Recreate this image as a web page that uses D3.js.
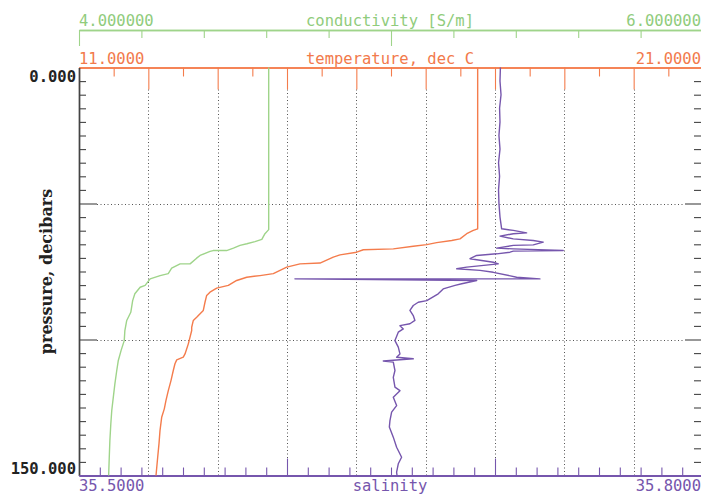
<!DOCTYPE html>
<html>
<head>
<meta charset="utf-8">
<script src="https://cdn.jsdelivr.net/npm/d3@7"></script>
<style>
  html, body { margin: 0; padding: 0; background: #fff; }
  svg { display: block; }
</style>
</head>
<body>
<svg id="chart" width="701" height="494"></svg>
<script>
// CTD cast: conductivity, temperature and salinity against pressure.

// Conductivity profile [S/m]
const condPressure = [0, 59.6, 61.1, 63.2, 64.0, 64.8, 65.4, 66.4, 67.3, 67.3, 67.6, 69.1, 70.1, 72.2, 72.2,
  73.8, 75.8, 76.5, 77.7, 80.1, 80.8, 83.2, 85.7, 90.0, 93.0, 96.7, 100.4, 104.0, 107.7, 111.4, 116.3,
  121.2, 126.1, 131.0, 137.1, 143.3, 150];
const condValues = [4.608, 4.608, 4.596, 4.586, 4.564, 4.538, 4.516, 4.495, 4.473, 4.430, 4.420, 4.388,
  4.377, 4.356, 4.324, 4.297, 4.286, 4.260, 4.228, 4.212, 4.196, 4.179, 4.172, 4.166, 4.153, 4.147,
  4.145, 4.135, 4.126, 4.121, 4.115, 4.110, 4.105, 4.102, 4.099, 4.097, 4.095];

// Temperature profile [deg C]
const tempPressure = [0, 59.3, 59.9, 61.1, 63.0, 63.6, 64.4, 65.1, 65.7, 66.7, 67.0, 67.9, 68.9, 69.7,
  71.9, 72.2, 73.4, 75.8, 76.5, 77.1, 78.3, 80.1, 81.1, 82.6, 83.8, 86.3, 89.3, 91.8, 93.0, 95.5, 96.7,
  101.6, 105.3, 106.5, 107.5, 108.9, 111.4, 115.1, 118.8, 122.4, 125.5, 128.6, 133.5, 138.3, 143.3, 150];
const tempValues = [17.389, 17.389, 17.319, 17.213, 17.106, 16.973, 16.732, 16.572, 16.357, 16.037,
  15.556, 15.450, 15.183, 15.075, 14.862, 14.542, 14.329, 14.114, 13.901, 13.688, 13.527, 13.393,
  13.207, 13.099, 13.046, 13.019, 12.992, 12.886, 12.832, 12.806, 12.806, 12.752, 12.699, 12.671,
  12.566, 12.538, 12.511, 12.474, 12.431, 12.394, 12.367, 12.325, 12.298, 12.282, 12.261, 12.234];

// Salinity profile
const salPressure = [0, 5, 10, 15, 20, 25, 30, 35, 40, 45, 50, 55, 59.3, 59.9, 60.8, 61.1, 62.0, 63.0,
  63.6, 64.2, 65.2, 65.4, 66.4, 66.7, 67.3, 67.5, 67.9, 68.5, 69.1, 70.3, 71.6, 72.2, 73.4, 74.0, 74.6,
  75.3, 77.1, 77.7, 77.7, 78.3, 79.5, 80.1, 81.4, 83.2, 85.7, 86.3, 87.5, 89.3, 91.2, 93.0, 94.2, 94.9,
  96.1, 97.3, 100.4, 102.8, 105.3, 106.5, 107.1, 107.9, 108.3, 111.4, 113.9, 117.5, 118.8, 121.2,
  124.3, 126.7, 129.8, 132.2, 135.9, 139.6, 143.3, 145.7, 148.8, 150];
const salValues = [35.7026, 35.7024, 35.7029, 35.7022, 35.7024, 35.7019, 35.7024, 35.7017, 35.7022,
  35.7017, 35.7019, 35.7024, 35.7032, 35.7088, 35.7152, 35.7088, 35.7024, 35.7088, 35.7184, 35.7232,
  35.7184, 35.7088, 35.7008, 35.7088, 35.7328, 35.7088, 35.7072, 35.7008, 35.6912, 35.6880, 35.6992,
  35.7016, 35.6864, 35.6816, 35.6928, 35.6992, 35.7104, 35.7216, 35.6038, 35.6912, 35.6840, 35.6808,
  35.6751, 35.6727, 35.6672, 35.6631, 35.6607, 35.6591, 35.6607, 35.6615, 35.6591, 35.6543, 35.6559,
  35.6535, 35.6519, 35.6535, 35.6543, 35.6527, 35.6607, 35.6463, 35.6511, 35.6519, 35.6511, 35.6519,
  35.6543, 35.6511, 35.6527, 35.6503, 35.6495, 35.6492, 35.6511, 35.6527, 35.6551, 35.6535, 35.6527,
  35.6529];

// Axis ranges and labels
const pressureDomain = [0, 150];
const condDomain = [4, 6];
const tempDomain = [11, 21];
const salDomain = [35.5, 35.8];
const pressureLabels = ["0.000", "150.000"];
const condLabels = ["4.000000", "conductivity [S/m]", "6.000000"];
const tempLabels = ["11.0000", "temperature, dec C", "21.0000"];
const salLabels = ["35.5000", "salinity", "35.8000"];
const pressureTitle = "pressure, decibars";

const condStep = 0.2, condMajor = [4, 5, 6];
const tempDivisions = 18;           // temperature axis split into 18 tick intervals
const salStep = 0.01, salMajor = [35.6, 35.7];
const pressureStep = 5, pressureMajor = [50, 100];

const colors = {
  cond: "#9fd48a", condText: "#90cc7c",
  temp: "#f47c4c", tempText: "#f27a4c",
  sal: "#7656ad", salText: "#7656ad",
  axis: "#444", grid: "#555"
};

const L = 79, R = 703, T = 67.5, B = 475.5;
const svg = d3.select("#chart");

const y = d3.scaleLinear().domain(pressureDomain).range([T, B]);
const xC = d3.scaleLinear().domain(condDomain).range([L, R]);
const xT = d3.scaleLinear().domain(tempDomain).range([L, R]);
const xS = d3.scaleLinear().domain(salDomain).range([L, R]);

const fmt = v => +v.toFixed(6);
const condTicks = d3.range(0, Math.round((condDomain[1] - condDomain[0]) / condStep) + 1).map(k => fmt(condDomain[0] + k * condStep));
const tempTicks = d3.range(0, tempDivisions + 1).map(k => tempDomain[0] + k * (tempDomain[1] - tempDomain[0]) / tempDivisions);
const tempMajor = tempTicks.filter((d, i) => i % 2 === 0);
const salTicks = d3.range(0, Math.round((salDomain[1] - salDomain[0]) / salStep) + 1).map(k => fmt(salDomain[0] + k * salStep));
const pTicks = d3.range(pressureStep, pressureDomain[1], pressureStep);

function drawAxis(g, axis, color, width) {
  g.call(axis);
  g.selectAll("text").remove();
  g.select(".domain").attr("stroke", color).attr("stroke-width", width);
  g.selectAll(".tick line").attr("stroke", color).attr("stroke-width", 1.1);
}

// Dotted grid at the major temperature ticks and major pressure ticks
const grid = svg.append("g").attr("stroke", colors.grid).attr("stroke-width", 1)
  .attr("stroke-dasharray", "1,2.5");
grid.selectAll("line.v").data(tempMajor.slice(1, -1)).join("line")
  .attr("x1", d => Math.round(xT(d)) + 0.5).attr("x2", d => Math.round(xT(d)) + 0.5)
  .attr("y1", T + 22).attr("y2", B);
grid.selectAll("line.h").data(pressureMajor).join("line")
  .attr("x1", L + 18).attr("x2", R - 18)
  .attr("y1", d => Math.round(y(d)) + 0.5).attr("y2", d => Math.round(y(d)) + 0.5);

// Conductivity axis (top, upper)
const cy = 30;
drawAxis(svg.append("g").attr("transform", `translate(0,${cy})`),
  d3.axisTop(xC).tickValues(condTicks.filter(d => !condMajor.includes(d))).tickSize(-8).tickSizeOuter(0), colors.cond, 1.4);
drawAxis(svg.append("g").attr("transform", `translate(0,${cy})`),
  d3.axisTop(xC).tickValues(condMajor).tickSize(-16).tickSizeOuter(0), colors.cond, 1.4);

// Temperature axis (top, lower)
drawAxis(svg.append("g").attr("transform", `translate(0,${T})`),
  d3.axisTop(xT).tickValues(tempTicks.filter((d, i) => i % 2 === 1)).tickSize(-9).tickSizeOuter(0), colors.temp, 1.4);
drawAxis(svg.append("g").attr("transform", `translate(0,${T})`),
  d3.axisTop(xT).tickValues(tempMajor).tickSize(-22).tickSizeOuter(0), colors.temp, 1.4);

// Pressure axes (left and right)
drawAxis(svg.append("g").attr("transform", `translate(${L},0)`),
  d3.axisLeft(y).tickValues(pTicks.filter(d => !pressureMajor.includes(d))).tickSize(-7).tickSizeOuter(0), colors.axis, 1.4);
drawAxis(svg.append("g").attr("transform", `translate(${L},0)`),
  d3.axisLeft(y).tickValues(pressureMajor).tickSize(-18).tickSizeOuter(0), colors.axis, 1.4);
drawAxis(svg.append("g").attr("transform", `translate(${R},0)`),
  d3.axisRight(y).tickValues(pTicks.filter(d => !pressureMajor.includes(d))).tickSize(-9).tickSizeOuter(0), colors.axis, 1.4);
drawAxis(svg.append("g").attr("transform", `translate(${R},0)`),
  d3.axisRight(y).tickValues(pressureMajor).tickSize(-18).tickSizeOuter(0), colors.axis, 1.4);

// Salinity axis (bottom)
drawAxis(svg.append("g").attr("transform", `translate(0,${B})`),
  d3.axisBottom(xS).tickValues(salTicks.filter(d => !salMajor.includes(d) && d !== salDomain[0])).tickSize(-8).tickSizeOuter(0), colors.sal, 2);
drawAxis(svg.append("g").attr("transform", `translate(0,${B})`),
  d3.axisBottom(xS).tickValues(salMajor).tickSize(-17).tickSizeOuter(0), colors.sal, 2);

// Profiles
function profile(pressures, values, xScale, color) {
  const pts = pressures.map((p, i) => [values[i], p]);
  svg.append("path").datum(pts)
    .attr("fill", "none").attr("stroke", color).attr("stroke-width", 1.4)
    .attr("stroke-linejoin", "round")
    .attr("d", d3.line().x(d => xScale(d[0])).y(d => y(d[1])));
}
profile(condPressure, condValues, xC, colors.cond);
profile(tempPressure, tempValues, xT, colors.temp);
profile(salPressure, salValues, xS, colors.sal);

// Axis labels
const mono = "'DejaVu Sans Mono', 'Liberation Mono', monospace";
function axisText(labels, baseline, color) {
  const g = svg.append("g").attr("font-family", mono).attr("font-size", 15.5).attr("fill", color);
  g.append("text").attr("x", L).attr("y", baseline).text(labels[0]);
  g.append("text").attr("x", (L + R) / 2 - 1).attr("y", baseline).attr("text-anchor", "middle").text(labels[1]);
  g.append("text").attr("x", 701).attr("y", baseline).attr("text-anchor", "end").text(labels[2]);
}
axisText(condLabels, 26, colors.condText);
axisText(tempLabels, 64, colors.tempText);
axisText(salLabels, 491, colors.salText);

const pl = svg.append("g").attr("font-family", mono).attr("font-size", 15.5)
  .attr("font-weight", "bold").attr("fill", "#222").attr("text-anchor", "end");
pl.append("text").attr("x", 76).attr("y", 82).text(pressureLabels[0]);
pl.append("text").attr("x", 76).attr("y", 474).text(pressureLabels[1]);

svg.append("text")
  .attr("transform", `translate(52,${(T + B) / 2}) rotate(-90)`)
  .attr("text-anchor", "middle")
  .attr("font-family", "'DejaVu Serif', serif").attr("font-size", 16).attr("font-weight", "bold")
  .attr("fill", "#222")
  .text(pressureTitle);
</script>
</body>
</html>
